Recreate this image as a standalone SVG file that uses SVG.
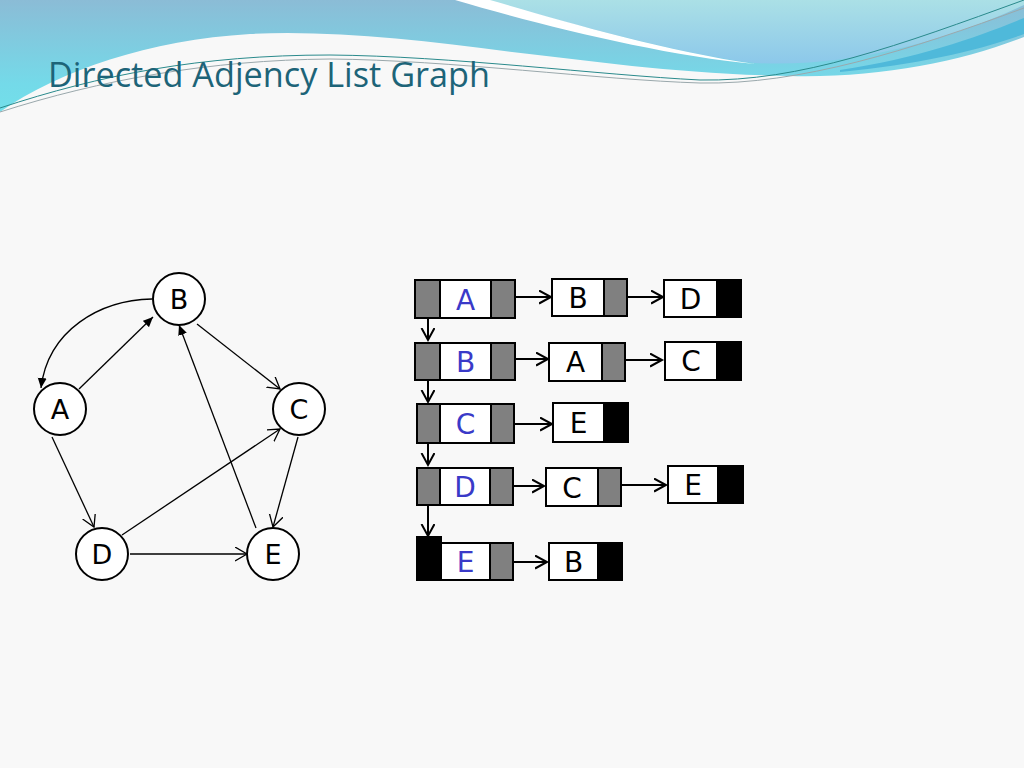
<svg xmlns="http://www.w3.org/2000/svg" width="1024" height="768" viewBox="0 0 1024 768">
<defs>
<linearGradient id="gTop" x1="0" y1="0" x2="0" y2="1">
<stop offset="0" stop-color="#8bbcd6"/>
<stop offset="0.75" stop-color="#74dae9"/>
<stop offset="1" stop-color="#72dfea"/>
</linearGradient>
<linearGradient id="gBowl" x1="0" y1="0" x2="0" y2="1">
<stop offset="0" stop-color="#abe0e6"/>
<stop offset="1" stop-color="#8cc8ea"/>
</linearGradient>
<marker id="open" markerUnits="userSpaceOnUse" markerWidth="14" markerHeight="16" refX="12" refY="7" orient="auto">
<path d="M0,0 L12,7 L0,14" fill="none" stroke="#000" stroke-width="1.3"/>
</marker>
<marker id="fill" markerUnits="userSpaceOnUse" markerWidth="12" markerHeight="10" refX="10" refY="4.5" orient="auto">
<path d="M0,0 L10,4.5 L0,9 Z" fill="#000"/>
</marker>
<marker id="lst" markerUnits="userSpaceOnUse" markerWidth="15" markerHeight="16" refX="12" refY="7" orient="auto">
<path d="M0,0.5 L12,7 L0,13.5" fill="none" stroke="#000" stroke-width="2"/>
</marker>
<style>
.gc{fill:#fff;stroke:#000;stroke-width:2}
.gt{font-family:"DejaVu Sans",Verdana,sans-serif;font-size:27px;text-anchor:middle;fill:#000}
.e{fill:none;stroke:#000;stroke-width:1.3}
.w{fill:#fff;stroke:#000;stroke-width:2}
.g{fill:#808080;stroke:#000;stroke-width:2}
.k{fill:#000;stroke:#000;stroke-width:2}
.lt{font-family:"DejaVu Sans",Verdana,sans-serif;font-size:28px;text-anchor:middle;fill:#000}
.hd{fill:#3a3ac8}
.la{fill:none;stroke:#000;stroke-width:2;marker-end:url(#lst)}
</style>
</defs>
<rect width="1024" height="768" fill="#f8f8f8"/>
<g id="background">
<path d="M0,0 H1024 V37 C960,62 880,78 790,76 C680,74 600,62 512,52 C420,40 330,30 250,34 C150,40 60,70 0,112 Z" fill="url(#gTop)"/>
<path d="M485,0 C560,20 680,55 755,63 C850,68 950,40 1024,5 V0 Z" fill="url(#gBowl)"/>
<path d="M455,0 C540,25 660,55 755,64 C660,50 560,20 490,0 Z" fill="#ffffff"/>
<path d="M840,70 C920,58 980,36 1024,18 V34 C980,50 920,64 840,72 Z" fill="#4fb9da"/>
<path d="M0,108 C100,75 200,55 330,55 C450,56 600,75 700,80 C800,82 900,45 1024,0" fill="none" stroke="#2a8a8c" stroke-width="1"/>
<path d="M0,112 C100,80 210,60 330,59 C450,60 600,80 700,83 C800,85 910,50 1024,8" fill="none" stroke="#9aa8ac" stroke-width="1"/>
</g>
<text id="title" x="48" y="87" font-family="'Open Sans','DejaVu Sans',sans-serif" font-size="35" fill="#1d6478" textLength="442" lengthAdjust="spacingAndGlyphs">Directed Adjency List Graph</text>
<g id="edges">
<path class="e" d="M152,299 C100,300 48,330 41,388" marker-end="url(#fill)"/>
<path class="e" d="M79,389 L153,317" marker-end="url(#fill)"/>
<path class="e" d="M197,324 L280,389" marker-end="url(#open)"/>
<path class="e" d="M256,528 L179,325" marker-end="url(#fill)"/>
<path class="e" d="M52,437 L94,527" marker-end="url(#open)"/>
<path class="e" d="M122,535 L280,429" marker-end="url(#open)"/>
<path class="e" d="M298,437 L273,527" marker-end="url(#open)"/>
<path class="e" d="M130,554 L247,554" marker-end="url(#open)"/>
</g>
<g id="node-A"><circle class="gc" cx="60" cy="409" r="26"/><text class="gt" x="60" y="419">A</text></g>
<g id="node-B"><circle class="gc" cx="179" cy="299" r="26"/><text class="gt" x="179" y="309">B</text></g>
<g id="node-C"><circle class="gc" cx="299" cy="409" r="26"/><text class="gt" x="299" y="419">C</text></g>
<g id="node-D"><circle class="gc" cx="102" cy="554" r="26"/><text class="gt" x="102" y="564">D</text></g>
<g id="node-E"><circle class="gc" cx="273" cy="554" r="26"/><text class="gt" x="273" y="564">E</text></g>
<g id="list-connectors">
<line class="la" x1="428" y1="300" x2="428" y2="340"/>
<line class="la" x1="428" y1="362" x2="428" y2="402"/>
<line class="la" x1="428" y1="424" x2="428" y2="465"/>
<line class="la" x1="428" y1="486" x2="428" y2="536"/>
<line class="la" x1="503" y1="297" x2="551" y2="297"/>
<line class="la" x1="627" y1="297" x2="663" y2="297"/>
<line class="la" x1="502" y1="359" x2="548" y2="359"/>
<line class="la" x1="614" y1="360" x2="662" y2="360"/>
<line class="la" x1="505" y1="424" x2="552" y2="424"/>
<line class="la" x1="497" y1="486" x2="544" y2="486"/>
<line class="la" x1="618" y1="485" x2="666" y2="485"/>
<line class="la" x1="500" y1="562" x2="547" y2="562"/>
</g>
<g id="list-A">
<rect class="g" x="415" y="280" width="25" height="38"/><rect class="w" x="440" y="280" width="51" height="38"/><rect class="g" x="491" y="280" width="24" height="38"/>
<text class="lt hd" x="465.5" y="309.5">A</text>
</g>
<g id="list-A-B"><rect class="w" x="552" y="279" width="52" height="37"/><rect class="g" x="604" y="279" width="23" height="37"/><text class="lt" x="578" y="308">B</text></g>
<g id="list-A-D"><rect class="w" x="664" y="280" width="53" height="37"/><rect class="k" x="717" y="280" width="24" height="37"/><text class="lt" x="690.5" y="309">D</text></g>
<g id="list-B">
<rect class="g" x="415" y="343" width="25" height="37"/><rect class="w" x="440" y="343" width="51" height="37"/><rect class="g" x="491" y="343" width="24" height="37"/>
<text class="lt hd" x="465.5" y="372">B</text>
</g>
<g id="list-B-A"><rect class="w" x="549" y="343" width="53" height="38"/><rect class="g" x="602" y="343" width="23" height="38"/><text class="lt" x="575.5" y="372">A</text></g>
<g id="list-B-C"><rect class="w" x="665" y="342" width="52" height="38"/><rect class="k" x="717" y="342" width="24" height="38"/><text class="lt" x="691" y="371">C</text></g>
<g id="list-C">
<rect class="g" x="417" y="404" width="23" height="39"/><rect class="w" x="440" y="404" width="51" height="39"/><rect class="g" x="491" y="404" width="23" height="39"/>
<text class="lt hd" x="465.5" y="434">C</text>
</g>
<g id="list-C-E"><rect class="w" x="553" y="403" width="51" height="39"/><rect class="k" x="604" y="403" width="24" height="39"/><text class="lt" x="578.5" y="433">E</text></g>
<g id="list-D">
<rect class="g" x="417" y="468" width="23" height="37"/><rect class="w" x="440" y="468" width="50" height="37"/><rect class="g" x="490" y="468" width="23" height="37"/>
<text class="lt hd" x="465" y="497">D</text>
</g>
<g id="list-D-C"><rect class="w" x="546" y="468" width="52" height="38"/><rect class="g" x="598" y="468" width="23" height="38"/><text class="lt" x="572" y="498">C</text></g>
<g id="list-D-E"><rect class="w" x="668" y="466" width="50" height="37"/><rect class="k" x="718" y="466" width="25" height="37"/><text class="lt" x="693" y="495">E</text></g>
<g id="list-E">
<rect class="k" x="417" y="537" width="24" height="43"/><rect class="w" x="441" y="543" width="49" height="37"/><rect class="g" x="490" y="543" width="23" height="37"/>
<text class="lt hd" x="465.5" y="572">E</text>
</g>
<g id="list-E-B"><rect class="w" x="549" y="543" width="49" height="37"/><rect class="k" x="598" y="543" width="24" height="37"/><text class="lt" x="573.5" y="572">B</text></g>
</svg>
